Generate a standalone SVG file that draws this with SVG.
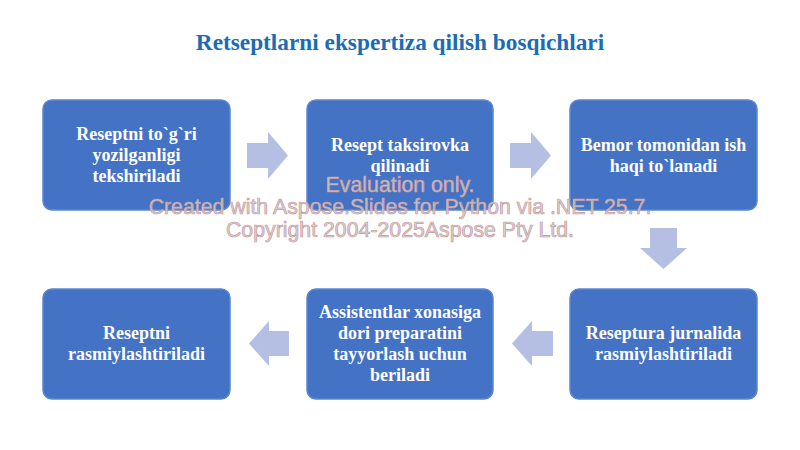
<svg xmlns="http://www.w3.org/2000/svg" width="800" height="450" viewBox="0 0 800 450">
<defs>
<style>
.box{fill:#4472C4;stroke:#5b86d0;stroke-width:1.5}
.bt{font-family:"Liberation Serif","Times New Roman",serif;font-weight:bold;font-size:18px;fill:#ffffff;text-anchor:middle}
.arr{fill:#b4bfe3}
.title{font-family:"Liberation Serif","Times New Roman",serif;font-weight:bold;font-size:23.3px;fill:#1b6cb5;text-anchor:middle}
.wm{font-family:"Liberation Sans",Arial,sans-serif;font-size:21.3px;fill:#d2cdd2;fill-opacity:0.9;stroke:#c99a9a;stroke-width:0.7;text-anchor:middle}
</style>
</defs>
<rect width="800" height="450" fill="#ffffff"/>
<text class="title" x="400" y="50">Retseptlarni ekspertiza qilish bosqichlari</text>
<g id="n1"><rect class="box" x="43" y="100" width="187" height="110" rx="9"/>
<text class="bt" x="136.5" y="140">Reseptni to`g`ri</text>
<text class="bt" x="136.5" y="161">yozilganligi</text>
<text class="bt" x="136.5" y="182">tekshiriladi</text></g>
<g id="n2"><rect class="box" x="307" y="100" width="186" height="110" rx="9"/>
<text class="bt" x="400" y="151">Resept taksirovka</text>
<text class="bt" x="400" y="172">qilinadi</text></g>
<g id="n3"><rect class="box" x="570" y="100" width="187" height="110" rx="9"/>
<text class="bt" x="663.5" y="151">Bemor tomonidan ish</text>
<text class="bt" x="663.5" y="172">haqi to`lanadi</text></g>
<g id="n4"><rect class="box" x="43" y="289" width="187" height="110" rx="9"/>
<text class="bt" x="136.5" y="339">Reseptni</text>
<text class="bt" x="136.5" y="360">rasmiylashtiriladi</text></g>
<g id="n5"><rect class="box" x="307" y="289" width="186" height="110" rx="9"/>
<text class="bt" x="400" y="318">Assistentlar xonasiga</text>
<text class="bt" x="400" y="339">dori preparatini</text>
<text class="bt" x="400" y="360">tayyorlash uchun</text>
<text class="bt" x="400" y="381">beriladi</text></g>
<g id="n6"><rect class="box" x="570" y="289" width="187" height="110" rx="9"/>
<text class="bt" x="663.5" y="339">Reseptura jurnalida</text>
<text class="bt" x="663.5" y="360">rasmiylashtiriladi</text></g>
<g id="connectors">
<polygon class="arr" points="247,143 268,143 268,132 288,155.5 268,179 268,168 247,168"/>
<polygon class="arr" points="510,143 531,143 531,132 551,155.5 531,179 531,168 510,168"/>
<polygon class="arr" points="650,228 677,228 677,248 687,248 663.5,269 640,248 650,248"/>
<polygon class="arr" points="553,331 532,331 532,321 512,343.5 532,366 532,356 553,356"/>
<polygon class="arr" points="289,331 269,331 269,321 249,343.5 269,366 269,356 289,356"/>
</g>
<text class="wm" x="400" y="192">Evaluation only.</text>
<text class="wm" x="400" y="214">Created with Aspose.Slides for Python via .NET 25.7.</text>
<text class="wm" x="400" y="237">Copyright 2004-2025Aspose Pty Ltd.</text>
</svg>
